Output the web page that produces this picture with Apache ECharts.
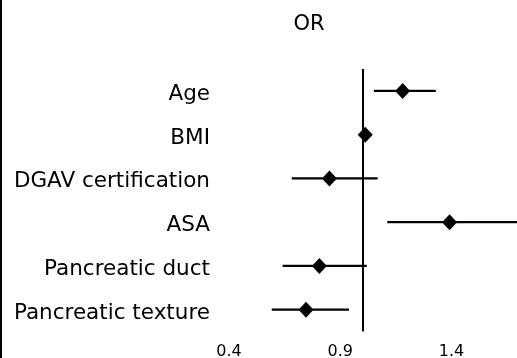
<!DOCTYPE html>
<html>
<head>
<meta charset="utf-8">
<script src="https://cdn.jsdelivr.net/npm/echarts@6/dist/echarts.min.js"></script>
<style>
  html, body { margin: 0; padding: 0; background: #fff; }
  #chart { width: 517px; height: 358px; }
</style>
</head>
<body>
<div id="chart"></div>
<script>
// Odds ratios with 95% confidence intervals, top to bottom
const categories = ['Age', 'BMI', 'DGAV certification', 'ASA', 'Pancreatic duct', 'Pancreatic texture'];
const oddsRatio = [1.180, 1.012, 0.851, 1.391, 0.806, 0.746];
const ciLower   = [1.051, 1.000, 0.682, 1.111, 0.641, 0.592];
const ciUpper   = [1.329, 1.025, 1.068, 1.700, 1.019, 0.939];
const xTicks = [0.4, 0.9, 1.4];
const xMax = 1.694;
const referenceLine = 1.0;

const FONT = 'DejaVu Sans';

const chart = echarts.init(document.getElementById('chart'), null, { renderer: 'canvas' });

const intervalData = categories.map((c, i) => [ciLower[i], ciUpper[i], i]);
const pointData = categories.map((c, i) => [oddsRatio[i], i]);

chart.setOption({
  animation: false,
  backgroundColor: '#fff',
  grid: { left: 229, right: 0, top: 69, height: 262.5, containLabel: false, outerBoundsMode: 'none' },
  xAxis: {
    type: 'value',
    min: xTicks[0],
    max: xMax,
    interval: 0.5,
    axisLine: { show: false },
    axisTick: { show: false },
    splitLine: { show: false },
    axisLabel: {
      color: '#000',
      fontFamily: FONT,
      fontSize: 16,
      margin: 12,
      showMaxLabel: false,
      formatter: v => v.toFixed(1)
    }
  },
  yAxis: {
    type: 'category',
    data: categories,
    inverse: true,
    axisLine: { show: false },
    axisTick: { show: false },
    splitLine: { show: false },
    axisLabel: {
      color: '#000', fontFamily: FONT, fontSize: 21.5, margin: 19,
      verticalAlign: 'top', lineHeight: 7
    }
  },
  graphic: [
    { type: 'line', shape: { x1: 1, y1: 0, x2: 1, y2: 358 }, style: { stroke: '#000', lineWidth: 2 } },
    { type: 'text', x: 309, y: 25,
      style: { text: 'OR', fill: '#000', font: '21px "DejaVu Sans"', align: 'center', verticalAlign: 'middle' } }
  ],
  series: [
    {
      type: 'custom',
      data: intervalData,
      clip: true,
      z: 2,
      renderItem: (params, api) => {
        const a = api.coord([api.value(0), api.value(2)]);
        const b = api.coord([api.value(1), api.value(2)]);
        return {
          type: 'line',
          shape: { x1: a[0], y1: a[1], x2: b[0], y2: b[1] },
          style: { stroke: '#000', lineWidth: 2.3 }
        };
      }
    },
    {
      type: 'scatter',
      data: pointData,
      symbol: 'diamond',
      symbolSize: [15, 16],
      itemStyle: { color: '#000', opacity: 1 },
      z: 3,
      markLine: {
        silent: true,
        symbol: 'none',
        label: { show: false },
        lineStyle: { color: '#000', width: 2, type: 'solid' },
        data: [{ xAxis: referenceLine }]
      }
    }
  ]
});
</script>
</body>
</html>
